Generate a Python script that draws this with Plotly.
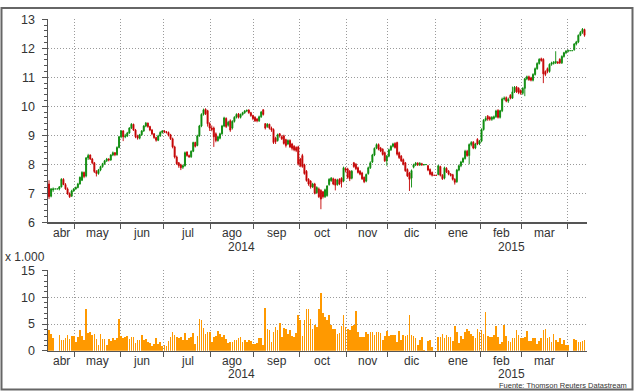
import pandas as pd
import plotly.graph_objects as go

# ---------------- data ----------------
dates = [d.strftime("%Y-%m-%d") for d in pd.bdate_range("2014-04-14", "2015-04-13")]

opens = [
    7.32, 6.90, 7.12, 7.15, 7.15, 7.15, 7.22, 7.48, 7.30, 7.15, 6.98, 6.90, 7.08,
    7.15, 7.20, 7.32, 7.45, 7.72, 7.60, 8.22, 8.32, 8.18, 8.05, 7.75, 7.68, 7.80, 7.92, 8.02, 8.12, 8.18, 8.15, 8.32, 8.40, 8.33, 8.58,
    8.95, 9.15, 8.95, 8.98, 9.08, 9.25, 9.38, 9.18, 8.98, 8.90, 9.02, 9.15, 9.32, 9.42, 9.30, 9.18, 9.05, 8.92, 8.83, 8.98, 9.10,
    9.15, 9.12, 9.10, 9.02, 8.88, 8.60, 8.25, 8.05, 7.98, 7.90, 7.95, 8.42, 8.30, 8.26, 8.45, 8.75, 8.65, 8.98, 9.32, 9.72, 9.90, 9.85, 9.40,
    9.25, 9.25, 9.05, 8.82, 8.90, 9.05, 9.32, 9.58, 9.35, 9.50, 9.25, 9.48, 9.62, 9.74, 9.62, 9.72, 9.78, 9.84, 9.87, 9.78, 9.68,
    9.62, 9.56, 9.50, 9.64, 9.88, 9.40, 9.30, 9.38, 9.25, 9.20, 8.90, 8.82, 9.05, 8.95, 8.98, 8.85, 8.70, 8.82, 8.70, 8.62, 8.58, 8.60,
    8.18, 8.30, 7.98, 7.76, 7.48, 7.42, 7.22, 7.32, 7.02, 7.15, 7.10, 7.05, 6.88, 6.92, 7.30, 7.43, 7.50, 7.48, 7.30, 7.48, 7.52, 7.42, 7.85,
    7.84, 7.76, 7.52, 8.05, 8.00, 7.88, 7.76, 7.70, 7.55, 7.42, 7.68, 7.88, 8.08, 8.32, 8.56, 8.68, 8.56, 8.52, 8.40, 8.12,
    8.28, 8.50, 8.62, 8.72, 8.75, 8.40, 8.28, 8.16, 8.05, 7.82, 7.70, 7.52, 7.90, 7.98, 8.04, 7.98, 8.02, 7.98, 7.99, 7.95, 7.82, 7.72, 7.62,
    7.62, 7.65, 7.92, 7.62, 7.52, 7.86, 7.76, 7.66, 7.64, 7.48, 7.40, 7.80, 7.95, 8.08, 8.20, 8.45, 8.30, 8.68, 8.76, 8.56, 8.86, 8.70,
    8.80, 9.20, 9.52, 9.66, 9.62, 9.55, 9.58, 9.64, 9.86, 9.62, 9.85, 10.25, 10.30, 10.18, 10.38, 10.28, 10.50, 10.66, 10.62, 10.55,
    10.45, 10.62, 10.95, 11.02, 10.98, 10.90, 11.10, 11.30, 11.48, 11.64, 11.62, 11.20, 11.30, 11.20, 11.45, 11.48, 11.50, 11.52, 11.62, 11.50, 11.72, 11.85,
    11.90, 11.92, 11.92, 11.95, 12.15, 12.22, 12.45, 12.55, 12.65,
]

closes = [
    6.88, 7.15, 7.15, 7.15, 7.15, 7.22, 7.48, 7.30, 7.15, 6.98, 6.88, 7.08, 7.15,
    7.20, 7.32, 7.55, 7.72, 7.58, 8.22, 8.30, 8.18, 8.05, 7.75, 7.68, 7.80, 7.92, 8.02, 8.12, 8.18, 8.15, 8.32, 8.40, 8.33, 8.58, 8.95,
    9.15, 8.95, 8.98, 9.08, 9.25, 9.38, 9.18, 8.95, 8.90, 9.02, 9.15, 9.32, 9.42, 9.30, 9.18, 9.05, 8.92, 8.83, 8.98, 9.10, 9.15,
    9.12, 9.10, 9.00, 8.88, 8.60, 8.25, 8.02, 7.95, 7.88, 7.95, 8.40, 8.30, 8.26, 8.45, 8.75, 8.62, 8.98, 9.32, 9.72, 9.88, 9.74, 9.40, 9.25,
    9.20, 8.95, 8.82, 8.95, 9.05, 9.32, 9.60, 9.30, 9.45, 9.18, 9.48, 9.62, 9.72, 9.62, 9.72, 9.78, 9.84, 9.86, 9.78, 9.68, 9.58,
    9.50, 9.50, 9.64, 9.80, 9.72, 9.25, 9.38, 9.25, 9.18, 8.75, 8.78, 9.02, 8.98, 8.88, 8.72, 8.65, 8.82, 8.60, 8.55, 8.50, 8.48, 8.02,
    7.95, 7.92, 7.68, 7.44, 7.32, 7.22, 7.32, 7.00, 7.20, 6.88, 6.80, 6.88, 7.12, 7.25, 7.48, 7.52, 7.32, 7.28, 7.46, 7.32, 7.38, 7.88, 7.80,
    7.55, 7.50, 7.76, 7.92, 7.85, 7.72, 7.66, 7.50, 7.40, 7.65, 7.88, 8.05, 8.32, 8.55, 8.68, 8.52, 8.46, 8.34, 8.12, 8.28,
    8.50, 8.62, 8.70, 8.58, 8.35, 8.23, 8.12, 8.00, 7.78, 7.60, 7.48, 7.78, 7.98, 8.04, 7.98, 8.04, 7.98, 7.99, 7.99, 7.80, 7.66, 7.62, 7.62,
    7.62, 7.95, 7.62, 7.50, 7.88, 7.74, 7.66, 7.62, 7.48, 7.38, 7.80, 7.95, 8.08, 8.20, 8.45, 8.30, 8.68, 8.75, 8.56, 8.70, 8.70, 8.80,
    9.20, 9.52, 9.58, 9.56, 9.55, 9.62, 9.64, 9.84, 9.62, 9.85, 10.25, 10.28, 10.18, 10.24, 10.28, 10.50, 10.66, 10.50, 10.48, 10.45,
    10.62, 10.95, 11.02, 10.92, 10.90, 11.10, 11.30, 11.48, 11.62, 11.58, 11.12, 11.10, 11.20, 11.45, 11.50, 11.52, 11.55, 11.50, 11.50, 11.72, 11.85, 11.90,
    11.92, 11.92, 11.92, 12.15, 12.22, 12.45, 12.55, 12.66, 12.45,
]

highs = [
    7.45, 7.18, 7.20, 7.15, 7.15, 7.25, 7.52, 7.52, 7.35, 7.20, 7.03, 7.12, 7.18,
    7.23, 7.36, 7.58, 7.76, 7.75, 8.25, 8.36, 8.34, 8.22, 8.08, 7.80, 7.84, 7.95, 8.05, 8.15, 8.22, 8.21, 8.35, 8.44, 8.42, 8.62, 8.98,
    9.18, 9.18, 9.05, 9.12, 9.28, 9.42, 9.40, 9.22, 9.02, 9.05, 9.18, 9.35, 9.46, 9.44, 9.33, 9.22, 9.08, 8.95, 9.02, 9.14, 9.18,
    9.18, 9.15, 9.13, 9.05, 8.92, 8.64, 8.30, 8.08, 8.02, 7.99, 8.44, 8.45, 8.34, 8.48, 8.78, 8.78, 9.02, 9.36, 9.76, 9.92, 9.93, 9.88, 9.45,
    9.34, 9.30, 9.10, 8.99, 9.09, 9.36, 9.64, 9.62, 9.50, 9.55, 9.52, 9.66, 9.76, 9.77, 9.75, 9.81, 9.87, 9.89, 9.90, 9.81, 9.71,
    9.66, 9.60, 9.68, 9.84, 9.90, 9.42, 9.42, 9.40, 9.30, 9.24, 8.95, 9.06, 9.08, 9.00, 9.02, 8.88, 8.86, 8.86, 8.74, 8.66, 8.62, 8.64,
    8.22, 8.36, 8.02, 7.80, 7.52, 7.45, 7.36, 7.36, 7.24, 7.20, 7.14, 7.08, 7.16, 7.28, 7.52, 7.56, 7.54, 7.50, 7.50, 7.52, 7.55, 7.92, 7.90,
    7.88, 7.80, 7.80, 8.08, 8.04, 7.92, 7.80, 7.74, 7.58, 7.68, 7.92, 8.10, 8.36, 8.58, 8.72, 8.72, 8.60, 8.55, 8.44, 8.32,
    8.54, 8.66, 8.74, 8.76, 8.78, 8.44, 8.32, 8.20, 8.08, 7.86, 7.74, 7.82, 8.02, 8.08, 8.07, 8.07, 8.05, 8.01, 7.99, 7.98, 7.86, 7.75, 7.62,
    7.62, 7.98, 7.95, 7.66, 7.92, 7.90, 7.80, 7.70, 7.67, 7.52, 7.84, 7.99, 8.12, 8.24, 8.50, 8.50, 8.72, 8.80, 8.80, 8.74, 8.90, 8.84,
    9.24, 9.56, 9.66, 9.70, 9.66, 9.66, 9.68, 9.88, 9.90, 9.88, 10.30, 10.34, 10.34, 10.30, 10.42, 10.68, 10.70, 10.70, 10.66, 10.58,
    10.66, 10.98, 11.06, 11.06, 11.02, 11.14, 11.34, 11.52, 11.66, 11.68, 11.66, 11.24, 11.34, 11.48, 11.54, 11.56, 11.90, 11.56, 11.66, 11.76, 11.88, 11.94,
    11.96, 11.92, 11.92, 12.18, 12.26, 12.48, 12.60, 12.70, 12.68,
]

lows = [
    6.80, 6.86, 7.05, 7.15, 7.15, 7.10, 7.20, 7.28, 7.12, 6.95, 6.84, 6.88, 7.05,
    7.12, 7.17, 7.30, 7.42, 7.52, 7.55, 8.15, 8.15, 8.00, 7.70, 7.58, 7.64, 7.76, 7.88, 7.98, 8.08, 8.10, 8.12, 8.28, 8.28, 8.30, 8.55,
    8.90, 8.80, 8.90, 8.94, 9.05, 9.22, 9.15, 8.90, 8.85, 8.86, 8.98, 9.12, 9.28, 9.26, 9.14, 9.00, 8.88, 8.78, 8.80, 8.95, 9.06,
    9.08, 9.06, 8.96, 8.84, 8.55, 8.20, 7.98, 7.88, 7.80, 7.84, 7.92, 8.26, 8.22, 8.22, 8.42, 8.58, 8.62, 8.95, 9.28, 9.68, 9.70, 9.30, 9.15,
    9.14, 8.60, 8.76, 8.78, 8.86, 9.02, 9.28, 9.25, 9.30, 9.12, 9.20, 9.44, 9.58, 9.58, 9.58, 9.68, 9.74, 9.80, 9.74, 9.64, 9.52,
    9.46, 9.45, 9.46, 9.60, 9.68, 9.20, 9.26, 9.20, 9.12, 8.70, 8.70, 8.78, 8.92, 8.84, 8.68, 8.58, 8.66, 8.56, 8.48, 8.45, 8.42, 7.96,
    7.90, 7.88, 7.64, 7.40, 7.26, 7.16, 7.18, 6.96, 6.98, 6.84, 6.45, 6.82, 6.84, 6.88, 7.26, 7.40, 7.28, 7.10, 7.26, 7.28, 7.20, 7.38, 7.72,
    7.50, 7.42, 7.48, 7.88, 7.80, 7.68, 7.62, 7.46, 7.35, 7.38, 7.64, 7.84, 8.04, 8.28, 8.52, 8.48, 8.42, 8.30, 8.08, 7.95,
    8.24, 8.46, 8.58, 8.54, 8.30, 8.18, 8.08, 7.96, 7.74, 7.56, 7.08, 7.20, 7.86, 7.94, 7.94, 7.94, 7.95, 7.96, 7.99, 7.76, 7.62, 7.58, 7.62,
    7.62, 7.62, 7.58, 7.46, 7.48, 7.70, 7.62, 7.58, 7.44, 7.30, 7.36, 7.76, 7.90, 8.04, 8.16, 8.26, 8.00, 8.62, 8.52, 8.52, 8.66, 8.66,
    8.76, 9.16, 9.48, 9.50, 9.50, 9.50, 9.54, 9.60, 9.58, 9.58, 9.80, 10.20, 10.14, 10.12, 10.24, 10.26, 10.46, 10.46, 10.42, 10.40,
    10.40, 10.35, 10.90, 10.88, 10.86, 10.86, 11.06, 11.26, 11.44, 11.54, 10.80, 11.04, 11.14, 11.16, 11.40, 11.44, 11.46, 11.46, 11.46, 11.46, 11.68, 11.80,
    11.86, 11.92, 11.92, 11.92, 12.10, 12.18, 12.42, 12.50, 12.40,
]

# volume, in thousands
volumes = [
    3.95, 3.2, 2.3, 0, 0, 3.0, 2.0, 2.1, 2.3, 2.9, 2.2, 2.7, 2.7,
    1.7, 2.5, 3.95, 2.7, 2.0, 7.85, 3.3, 3.45, 2.9, 3.2, 2.2, 1.0, 3.1, 2.2, 2.2, 1.05, 2.2, 1.8, 2.3, 2.1, 2.4, 5.9,
    2.7, 2.3, 2.5, 2.8, 2.2, 2.6, 2.6, 1.5, 2.1, 2.1, 3.0, 2.1, 2.2, 1.7, 1.55, 0.85, 1.35, 2.3, 1.2, 1.65, 0.85,
    1.0, 0.85, 1.85, 2.6, 3.5, 2.9, 2.6, 2.3, 2.6, 2.0, 3.3, 2.0, 2.3, 2.5, 3.3, 1.35, 2.7, 5.9, 5.7, 4.3, 3.2, 3.45, 3.45,
    1.7, 2.5, 2.7, 3.7, 3.2, 2.6, 2.9, 2.2, 1.5, 1.65, 1.65, 2.1, 2.0, 2.4, 2.5, 1.65, 2.1, 1.65, 2.0, 1.85, 1.35,
    1.35, 1.5, 2.3, 2.4, 1.0, 8.0, 4.1, 3.8, 1.65, 3.5, 4.45, 3.95, 5.25, 2.6, 4.3, 4.1, 3.2, 3.95, 2.7, 2.5, 3.4, 6.6,
    5.8, 2.7, 5.7, 7.8, 7.8, 6.0, 4.1, 4.75, 4.45, 7.8, 10.7, 7.0, 6.4, 5.8, 6.6, 4.75, 4.1, 4.0, 3.2, 3.4, 4.55, 6.65, 4.4,
    4.1, 3.95, 4.6, 4.75, 7.4, 3.6, 2.5, 2.6, 2.6, 3.5, 3.2, 3.6, 3.6, 2.9, 3.6, 3.5, 3.4, 2.0, 2.7, 3.7,
    2.7, 3.0, 2.9, 2.9, 1.65, 3.7, 2.0, 2.9, 2.7, 2.9, 6.6, 2.9, 2.7, 2.3, 1.05, 2.0, 2.5, 0.2, 0, 1.85, 2.1, 0.8, 0,
    0, 2.5, 2.5, 3.1, 2.3, 2.9, 2.6, 2.6, 1.8, 4.55, 3.5, 1.55, 2.7, 2.2, 3.5, 4.1, 3.7, 3.2, 2.7, 2.3, 4.1, 3.5,
    3.95, 3.1, 7.2, 2.7, 2.5, 2.6, 2.9, 4.55, 2.5, 1.2, 1.65, 4.9, 2.7, 1.85, 1.65, 2.3, 2.3, 3.8, 2.9, 2.3,
    2.3, 2.5, 3.7, 1.8, 1.8, 2.3, 2.3, 1.35, 1.8, 2.3, 3.8, 4.1, 2.3, 2.5, 1.65, 3.1, 2.0, 1.65, 2.3, 1.35, 2.1, 1.0,
    1.0, 0, 0, 2.2, 2.1, 1.6, 1.6, 1.8, 2.1,
]

month_labels = ["abr", "may", "jun", "jul", "ago", "sep", "oct", "nov", "dic", "ene", "feb", "mar"]
year_labels = ["2014", "2015"]

# ---------------- geometry helpers ----------------
# The photographed picture shows the page 8 px above the figure and squeezes
# 407 px of height into 391, so target positions are mapped back accordingly.
W = 634
H = 399
SQ = 391 / 407
def px(xp):
    return xp / W
def yfig(yp):
    return yp / SQ - 8
def py(yp):
    return 1 - yfig(yp) / H

x = list(range(len(dates)))
X_RANGE = [-0.5, len(dates) + 0.2]

months = [d[:7] for d in dates]
bounds = [i - 0.5 for i in range(1, len(months)) if months[i] != months[i - 1]]
seg_edges = [-0.5] + bounds
month_centers = [(seg_edges[k] + seg_edges[k + 1]) / 2 for k in range(len(month_labels))]
years = [d[:4] for d in dates]
year_split = [i - 0.5 for i in range(1, len(years)) if years[i] != years[i - 1]][0]
year_centers = [(-0.5 + year_split) / 2, (year_split + X_RANGE[1]) / 2]

GREEN = "#0a8a0a"
RED = "#c40000"
ORANGE = "#ff9900"
AXIS = "#555555"
GRID = "#9a9a9a"
TXT = "#333333"
FONT = "Liberation Sans, Arial, sans-serif"
GRIDDASH = "1px,2px"

fig = go.Figure()
fig.add_trace(go.Candlestick(
    x=x, open=opens, high=highs, low=lows, close=closes,
    increasing=dict(line=dict(color=GREEN, width=0.9), fillcolor=GREEN),
    decreasing=dict(line=dict(color=RED, width=0.9), fillcolor=RED),
    whiskerwidth=0, showlegend=False, xaxis="x", yaxis="y",
    hovertext=dates,
))
fig.add_trace(go.Bar(
    x=x, y=volumes, width=0.8, marker=dict(color=ORANGE, line=dict(width=0)),
    showlegend=False, xaxis="x2", yaxis="y2", hovertext=dates,
))

xcommon = dict(
    range=X_RANGE, tickmode="array", tickvals=bounds, ticktext=[""] * len(bounds),
    ticks="outside", ticklen=5, tickcolor=AXIS, tickwidth=1,
    showgrid=True, gridcolor=GRID, griddash=GRIDDASH, gridwidth=1,
    showline=True, linecolor=AXIS, linewidth=1.5, zeroline=False,
    domain=[px(48), px(587)], fixedrange=True,
)
ycommon = dict(
    ticks="outside", ticklen=5, tickcolor=AXIS, tickwidth=1,
    showgrid=True, gridcolor=GRID, griddash=GRIDDASH, gridwidth=1,
    showline=True, linecolor=AXIS, linewidth=1.5, zeroline=False,
    tickfont=dict(family=FONT, size=12.5, color=TXT), ticklabelstandoff=4,
    fixedrange=True,
)

fig.update_layout(
    width=W, height=H, margin=dict(l=0, r=0, t=0, b=0),
    paper_bgcolor="white", plot_bgcolor="white",
    font=dict(family=FONT, size=12, color=TXT),
    boxgap=0.3, bargap=0,
    xaxis=dict(**xcommon, anchor="y", rangeslider=dict(visible=False)),
    yaxis=dict(**ycommon, domain=[py(222), py(20)], range=[6, 13], dtick=1, tick0=6,
               minor=dict(dtick=0.2, ticks="outside", ticklen=2.5, tickcolor=AXIS, showgrid=False)),
    xaxis2=dict(**xcommon, anchor="y2"),
    yaxis2=dict(**ycommon, domain=[py(350), py(270)], range=[0, 15], tickvals=[0, 5, 10, 15],
                minor=dict(dtick=1, ticks="outside", ticklen=2.5, tickcolor=AXIS, showgrid=False)),
)

ann = []
for yy_m, yy_y, xa in [(233, 246.5, "x"), (360, 373.5, "x2")]:
    for lab, c in zip(month_labels, month_centers):
        ann.append(dict(x=c, y=py(yy_m), xref=xa, yref="paper", text=lab, showarrow=False,
                        xanchor="center", yanchor="middle", borderpad=0,
                        font=dict(family=FONT, size=12, color=TXT)))
    for lab, c in zip(year_labels, year_centers):
        ann.append(dict(x=c, y=py(yy_y), xref=xa, yref="paper", text=lab, showarrow=False,
                        xanchor="center", yanchor="middle", borderpad=0,
                        font=dict(family=FONT, size=12, color=TXT)))
ann.append(dict(x=px(3), y=py(257), xref="paper", yref="paper", text="x 1.000", showarrow=False,
                xanchor="left", yanchor="middle", font=dict(family=FONT, size=12, color=TXT)))
ann.append(dict(x=px(628), y=py(385), xref="paper", yref="paper", text="Fuente: Thomson Reuters Datastream",
                showarrow=False, xanchor="right", yanchor="middle", borderpad=0,
                font=dict(family=FONT, size=7.5, color=TXT)))
fig.update_layout(annotations=ann)

# outer frame
fig.add_shape(type="rect", xref="paper", yref="paper",
              x0=px(1.5), x1=px(632.5), y0=py(388.5), y1=1 - 1.0 / H,
              line=dict(color="#666666", width=2), fillcolor="rgba(0,0,0,0)", layer="above")

pin = ("var g=document.getElementsByClassName('plotly-graph-div')[0];"
       "var w=g.parentNode;"
       "document.documentElement.style.cssText='margin:0;padding:0;overflow:hidden;';"
       "document.body.style.cssText='margin:0;padding:0;overflow:hidden;';"
       "document.body.insertBefore(g, document.body.firstChild);"
       "if (w && w !== document.body) w.style.display='none';"
       "g.style.margin='0';g.style.display='block';")

fig.write_html("out.html", post_script=pin, config={"displayModeBar": False, "staticPlot": True})
